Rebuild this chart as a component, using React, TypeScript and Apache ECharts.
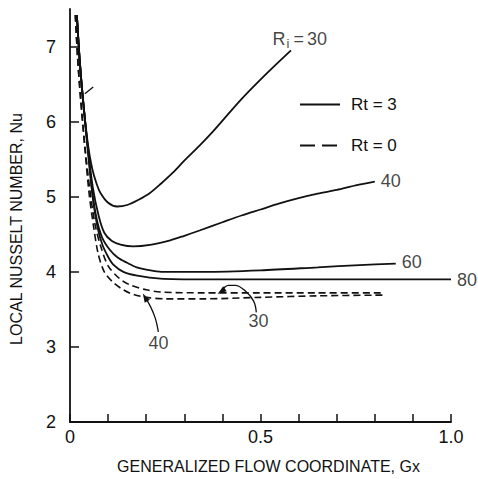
import React, { useEffect, useRef } from "react";
import * as echarts from "echarts";

// Local Nusselt number vs generalized flow coordinate Gx
// Rt = 3 (solid) curves, labelled by Ri
const rt3Ri30 = [[0.018,7.42],[0.025,6.85],[0.034,6.3],[0.047,5.7],[0.058,5.38],[0.07,5.17],[0.08,5.05],[0.1,4.92],[0.124,4.87],[0.15,4.89],[0.18,4.96],[0.21,5.05],[0.24,5.18],[0.27,5.32],[0.3,5.48],[0.34,5.68],[0.37,5.84],[0.41,6.07],[0.45,6.3],[0.49,6.51],[0.53,6.71],[0.58,6.95]];
const rt3Ri40 = [[0.018,7.42],[0.025,6.85],[0.034,6.3],[0.047,5.65],[0.06,5.12],[0.075,4.75],[0.09,4.52],[0.11,4.41],[0.135,4.36],[0.166,4.34],[0.21,4.36],[0.263,4.42],[0.3,4.48],[0.34,4.55],[0.4,4.66],[0.45,4.75],[0.5,4.83],[0.55,4.91],[0.6,4.98],[0.65,5.04],[0.7,5.09],[0.75,5.15],[0.8,5.2]];
const rt3Ri60 = [[0.018,7.42],[0.025,6.85],[0.034,6.3],[0.047,5.62],[0.06,5.0],[0.071,4.68],[0.085,4.45],[0.105,4.29],[0.125,4.19],[0.15,4.12],[0.175,4.06],[0.2,4.03],[0.24,4.0],[0.35,4.0],[0.5,4.02],[0.65,4.06],[0.76,4.09],[0.855,4.11]];
const rt3Ri80 = [[0.018,7.42],[0.025,6.85],[0.034,6.3],[0.047,5.62],[0.06,4.98],[0.072,4.6],[0.085,4.36],[0.1,4.2],[0.113,4.1],[0.14,4.0],[0.176,3.95],[0.237,3.91],[0.35,3.9],[0.6,3.9],[1.0,3.9]];
// Rt = 0 (dashed) curves
const rt0Ri30 = [[0.014,7.42],[0.02,6.85],[0.028,6.3],[0.04,5.64],[0.052,5.1],[0.065,4.65],[0.08,4.35],[0.1,4.08],[0.13,3.91],[0.16,3.82],[0.2,3.76],[0.24,3.73],[0.35,3.72],[0.5,3.72],[0.65,3.72],[0.82,3.72]];
const rt0Ri40 = [[0.014,7.42],[0.02,6.85],[0.028,6.3],[0.039,5.64],[0.05,5.05],[0.062,4.6],[0.074,4.24],[0.09,4.0],[0.113,3.86],[0.14,3.76],[0.166,3.7],[0.2,3.66],[0.25,3.64],[0.35,3.64],[0.5,3.66],[0.65,3.68],[0.82,3.69]];

// annotation pointers (data coordinates)
const arrow30 = [[0.489,3.46],[0.482,3.61],[0.461,3.74],[0.434,3.82],[0.416,3.82],[0.397,3.74]];
const arrow40 = [[0.232,3.2],[0.224,3.38],[0.211,3.54],[0.197,3.66]];
const slashMark = [[0.039,6.37],[0.061,6.46]];

// curve labels
const labelTexts = ["R{s|i}{e|=}30", "40", "60", "80", "30", "40"];
const labelAnchors = [[0.603,7.105],[0.842,5.21],[0.897,4.13],[1.042,3.89],[0.495,3.34],[0.232,3.05]];

const xTicks = [0,0.1,0.2,0.3,0.4,0.5,0.6,0.7,0.8,0.9,1.0];
const xTickLabels = [0,0.5,1.0];
const yTicks = [2,3,4,5,6,7];

const FONT = '"Liberation Sans", Arial, sans-serif';
const INK = "#111";

export default function App() {
  const ref = useRef<HTMLDivElement>(null);
  useEffect(() => {
    const chart = echarts.init(ref.current!, null, { renderer: "svg" });
    const solid = (data: number[][]) => ({
      type: "line", name: "Rt = 3", data, smooth: 0.3,
      symbol: "none", showSymbol: false, silent: true,
      lineStyle: { color: INK, width: 1.8 }, itemStyle: { color: INK },
    });
    const dashed = (data: number[][]) => ({
      type: "line", name: "Rt = 0", data, smooth: 0.3,
      symbol: "none", showSymbol: false, silent: true,
      lineStyle: { color: INK, width: 1.6, type: [7, 4] }, itemStyle: { color: INK },
    });
    const pointer = (data: number[][], rot: number) => ({
      type: "line", name: "pointer", smooth: 0.4, silent: true,
      showSymbol: true, symbol: "none",
      data: data.map((p, i) =>
        i === data.length - 1
          ? { value: p, symbol: "triangle", symbolSize: [6, 9], symbolRotate: rot }
          : { value: p }),
      lineStyle: { color: INK, width: 1.3 }, itemStyle: { color: INK },
    });
    const option = {
      animation: false,
      backgroundColor: "#fff",
      textStyle: { fontFamily: FONT, color: INK },
      grid: { left: 70, right: 27, top: 9, bottom: 52, containLabel: false },
      legend: {
        orient: "vertical", left: 299, top: 96, padding: 0,
        itemWidth: 40, itemHeight: 14, itemGap: 24,
        selectedMode: false,
        itemStyle: { opacity: 0, color: "transparent", borderWidth: 0 },
        textStyle: { fontFamily: FONT, fontSize: 17, color: INK, padding: [0, 0, 0, 6] },
        data: [
          { name: "Rt = 3" },
          { name: "Rt = 0", lineStyle: { type: [15, 7], width: 2 } },
        ],
      },
      xAxis: {
        type: "value", min: 0, max: 1, interval: 0.1,
        name: "GENERALIZED FLOW COORDINATE, Gx", nameLocation: "middle", nameGap: 36,
        nameTextStyle: { fontFamily: FONT, fontSize: 16, color: INK, padding: [0, 0, 0, 16] },
        axisLine: { lineStyle: { color: INK, width: 1.8 } },
        axisTick: { inside: true, length: 8, customValues: xTicks, lineStyle: { color: INK, width: 1.5 } },
        axisLabel: {
          fontFamily: FONT, fontSize: 18, color: INK, margin: 6, customValues: xTickLabels,
          formatter: (v: number) => {
            const t = Math.round(v * 10);
            if (t === 0) return "0";
            if (t === 5) return "0.5";
            if (t === 10) return "1.0";
            return "";
          },
        },
        splitLine: { show: false },
      },
      yAxis: {
        type: "value", min: 2, max: 7.5, interval: 1,
        name: "LOCAL NUSSELT NUMBER, Nu", nameLocation: "middle", nameGap: 46, nameRotate: 90,
        nameTextStyle: { fontFamily: FONT, fontSize: 16, color: INK, padding: [0, 27, 0, 0] },
        axisLine: { show: true, lineStyle: { color: INK, width: 1.8 } },
        axisTick: { show: true, inside: true, length: 9, customValues: yTicks, lineStyle: { color: INK, width: 1.5 } },
        axisLabel: {
          fontFamily: FONT, fontSize: 18, color: INK, margin: 14, customValues: yTicks,
          formatter: (v: number) => (Number.isInteger(v) ? String(v) : ""),
        },
        splitLine: { show: false },
      },
      series: [
        solid(rt3Ri30), solid(rt3Ri40), solid(rt3Ri60), solid(rt3Ri80),
        dashed(rt0Ri30), dashed(rt0Ri40),
        pointer(arrow30, 125), pointer(arrow40, 30),
        {
          type: "line", name: "mark", data: slashMark, symbol: "none", silent: true,
          lineStyle: { color: INK, width: 1.3 },
        },
        {
          type: "scatter", name: "labels", silent: true, clip: false, symbolSize: 0,
          data: labelAnchors.map((p, i) => ({ value: p, name: labelTexts[i] })),
          label: {
            show: true, position: "inside", formatter: (p: any) => p.name,
            fontFamily: FONT, fontSize: 18, color: INK,
            rich: {
              s: { fontFamily: FONT, fontSize: 13, color: INK, padding: [9, 2, 0, 1] },
              e: { fontFamily: FONT, fontSize: 18, color: INK, padding: [0, 3, 0, 2] },
            },
          },
        },
      ],
    };
    chart.setOption(option as any);
    return () => chart.dispose();
  }, []);
  return (
    <div
      ref={ref}
      style={{ position: "fixed", left: 0, top: 0, width: 478, height: 479, background: "#fff" }}
    />
  );
}
